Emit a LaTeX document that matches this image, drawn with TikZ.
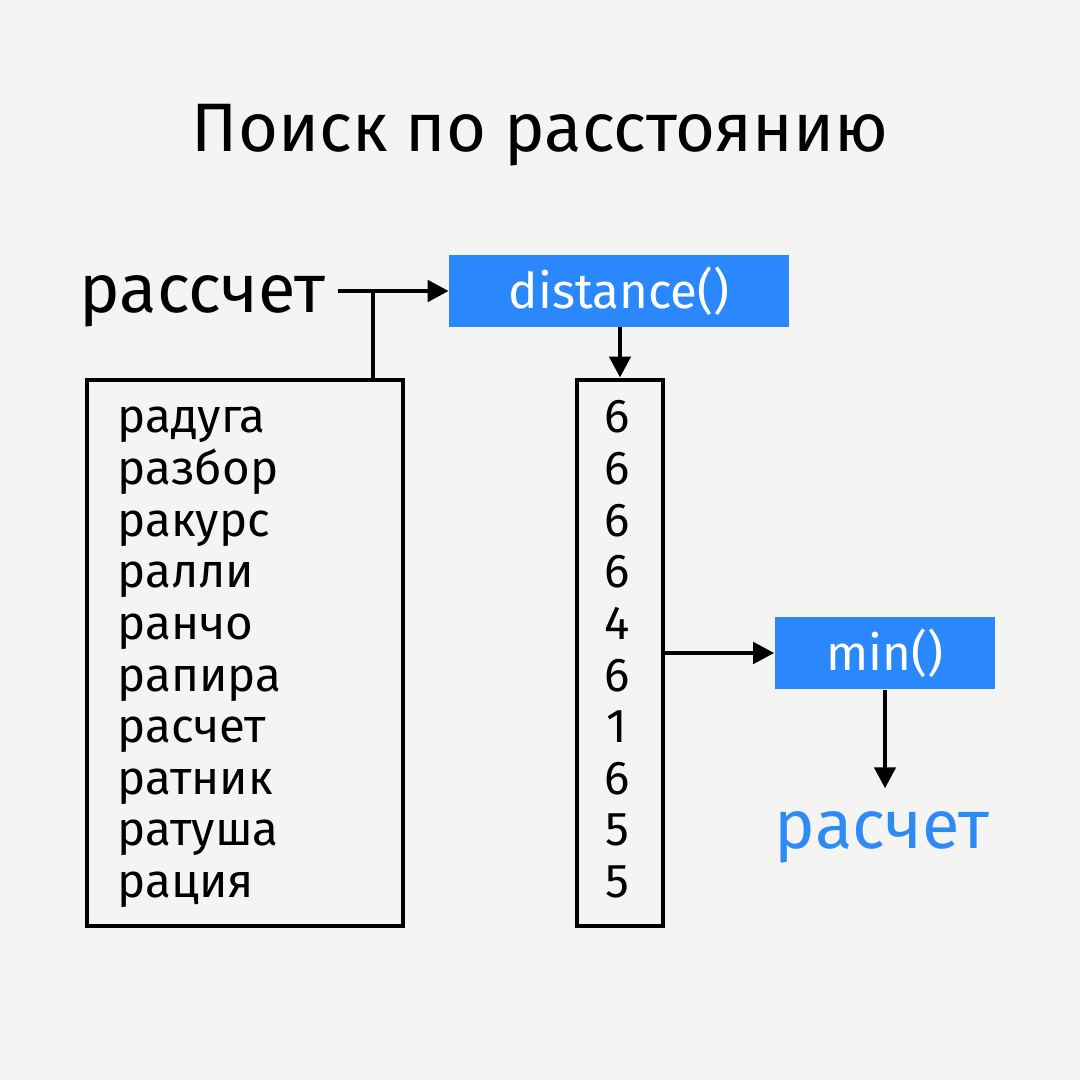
\documentclass[tikz,border=0pt]{standalone}
\usepackage{fontspec}
\setmainfont{Fira Sans}
\usetikzlibrary{positioning,arrows.meta}
\definecolor{paper}{HTML}{F4F4F3}
\definecolor{fnblue}{HTML}{2A88FC}
\definecolor{resblue}{HTML}{2F8BF3}
\tikzset{
    fnbox/.style={fill=fnblue, text=white, inner sep=0pt, font=\fontsize{14}{17}\selectfont},
    listbox/.style={draw, line width=1.3pt, inner sep=0pt, minimum height=5.46cm},
    flow/.style={line width=1.3pt, -{Triangle[length=0.21cm,width=0.21cm]}},
    entry/.style={inner sep=0pt, font=\fontsize{13.5}{16}\selectfont},
    big/.style={font=\fontsize{19.5}{23}\selectfont}
}

\begin{document}
\begin{tikzpicture}[x=0.01cm,y=-0.01cm]
    \fill[paper] (0,0) rectangle (1080,1080);
    \node[font=\fontsize{19.5}{24}\selectfont] (title) at (540,135) {Поиск по расстоянию};
    \node[big, anchor=base east, inner sep=0.12cm] (query) at (338,313) {рассчет};
    \node[fnbox, minimum width=3.39cm, minimum height=0.71cm] (dist) at (619,291) {distance()};
    \node[listbox, minimum width=3.16cm] (words) at (245,653) {};
    \node[listbox, minimum width=0.86cm] (nums) at (620,653) {};
    \node[fnbox, minimum width=2.2cm, minimum height=0.72cm] (minf) at (885,653) {min()};
    \node[big, text=resblue, anchor=base, inner sep=0.22cm] (result) at (882,848) {расчет};
    % dictionary and distances
    \foreach \w [count=\i] in {радуга,разбор,ракурс,ралли,ранчо,рапира,расчет,ратник,ратуша,рация}
        \node[entry, anchor=base west] (w\i) at (117,{433+51.6*(\i-1)}) {\w};
    \foreach \d [count=\i] in {6,6,6,6,4,6,1,6,5,5}
        \node[entry, anchor=base] (n\i) at (617,{433+51.6*(\i-1)}) {\d};
    \coordinate (split) at (373,291);
    \draw[flow] (query.east |- dist.west) -- (dist.west);
    \draw[line width=1.3pt] (split) -- (split |- words.north);
    \draw[flow] (nums.north |- dist.south) -- (nums.north);
    \draw[flow] (nums.east) -- (minf.west);
    \draw[flow] (minf.south) -- (minf.south |- result.north);
\end{tikzpicture}
\end{document}
